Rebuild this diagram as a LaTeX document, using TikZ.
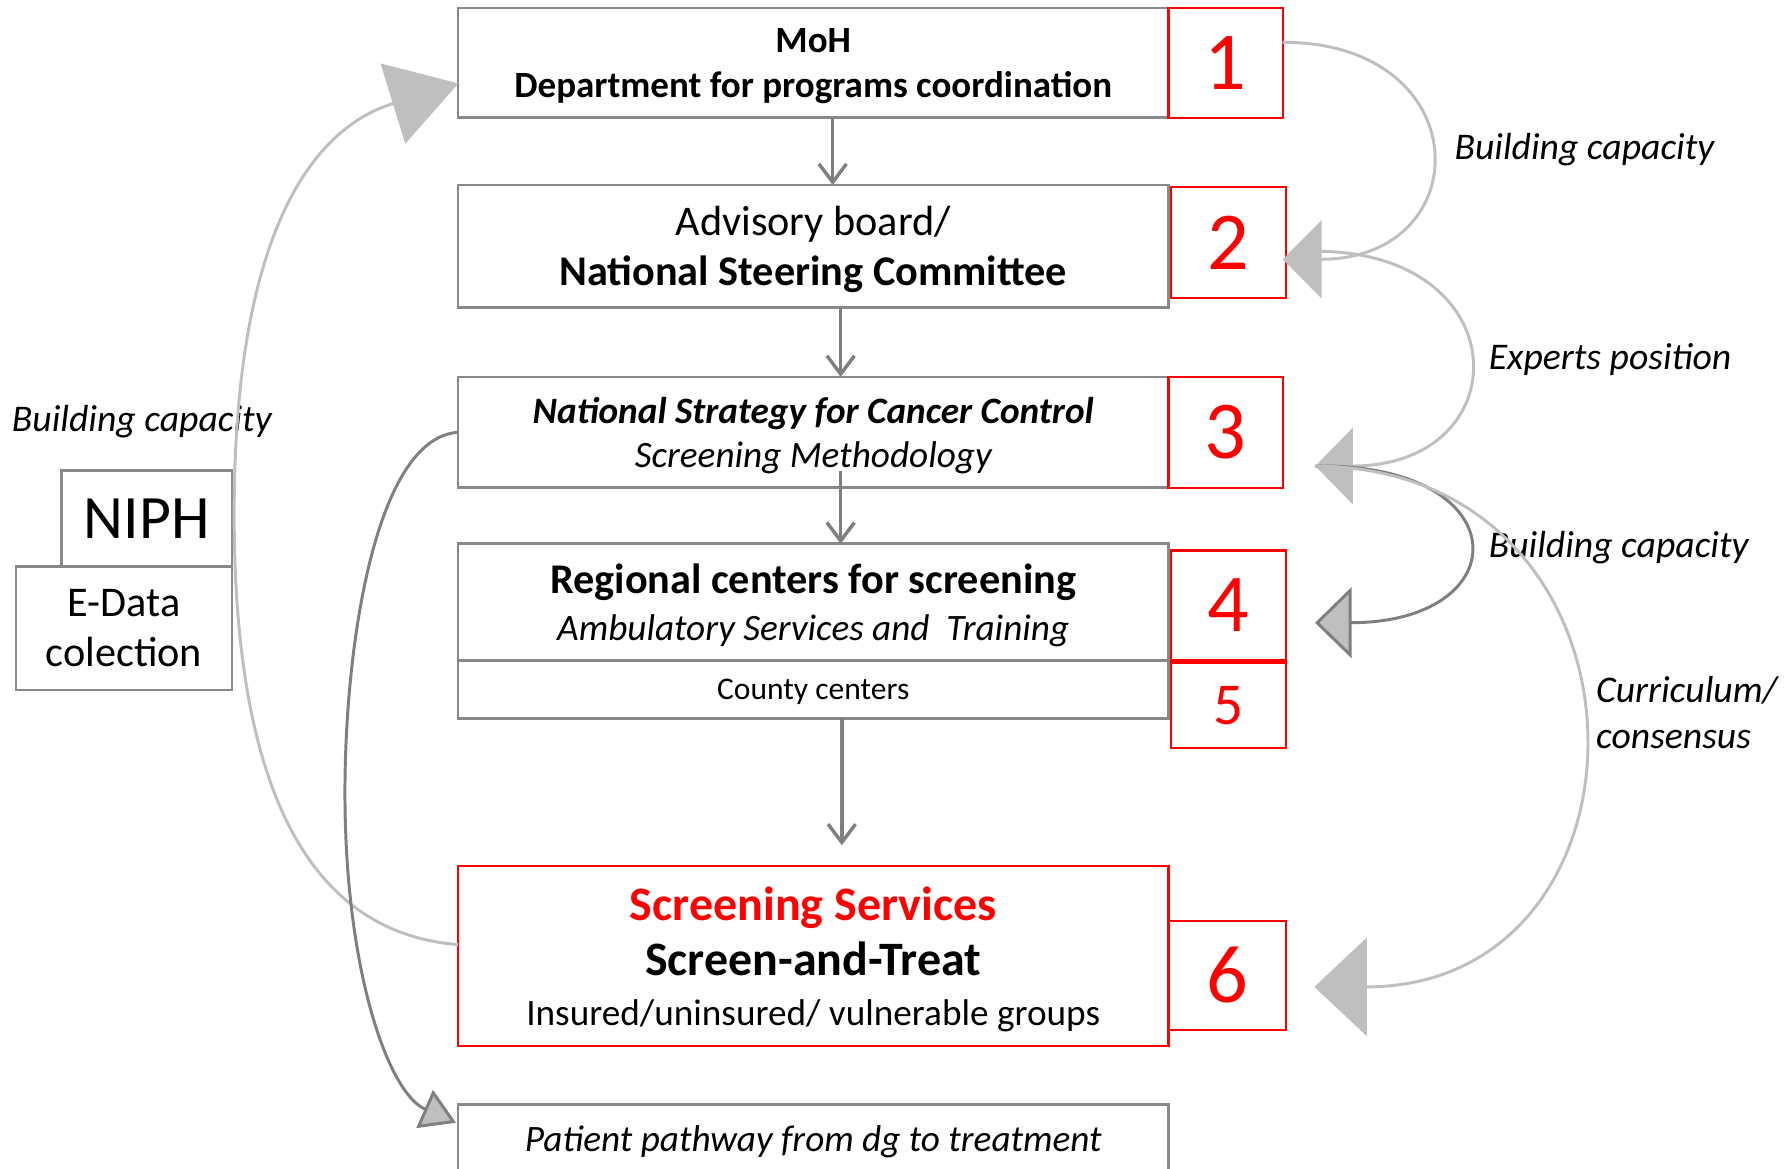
\documentclass[tikz,border=0pt]{standalone}
\usepackage{fontspec}
\setmainfont{Carlito}
\usetikzlibrary{arrows.meta}
\definecolor{boxgray}{HTML}{898989}
\definecolor{darkline}{HTML}{7F7F7F}
\definecolor{lightline}{HTML}{BFBFBF}
\definecolor{pptred}{HTML}{FF0000}
\begin{document}
\begin{tikzpicture}[x=0.5pt,y=-0.5pt,
  mainbox/.style={draw=boxgray, line width=1.2pt, fill=white, inner sep=0pt, outer sep=0pt, minimum width=311pt, align=center, text depth=0pt},
  numbox/.style={draw=pptred, line width=1pt, inner sep=0pt, outer sep=0pt, text=pptred, font=\fontsize{36}{36}\selectfont},
  sidebox/.style={draw=boxgray, line width=1.2pt, fill=white, inner sep=0pt, outer sep=0pt, align=center},
  flow/.style={draw=darkline, line width=1.5pt, -{Straight Barb[length=8pt,width=12pt]}},
  lightcurve/.style={draw=lightline, line width=1.3pt},
  darkcurve/.style={draw=darkline, line width=1.3pt},
  lbl/.style={font=\fontsize{16.5}{20}\selectfont\itshape, inner sep=0pt, anchor=west, align=left, text depth=0pt}
]
\useasboundingbox (0,0) rectangle (1568,1023);

% main boxes
\node[mainbox, minimum height=48pt, font=\fontsize{16.2}{19.5}\selectfont\bfseries] (b1) at (712,55) {MoH\\Department for programs coordination};
\node[mainbox, minimum height=53.5pt, font=\fontsize{18.5}{22}\selectfont] (b2) at (712,215.5) {Advisory board/\\\textbf{National Steering Committee}};
\node[mainbox, minimum height=48.5pt, font=\fontsize{16.3}{19.5}\selectfont\itshape] (b3) at (712,378.5) {\textbf{National Strategy for Cancer Control}\\Screening Methodology};
\node[mainbox, minimum height=51pt, font=\fontsize{18.5}{20.5}\selectfont] (b4) at (712,527) {\textbf{Regional centers for screening}\\{\fontsize{16.3}{20.5}\selectfont\itshape Ambulatory Services and\ \ Training}};
\node[mainbox, minimum height=25.5pt, font=\fontsize{13.8}{16}\selectfont] (b5) at (712,603.5) {County centers};
\node[mainbox, draw=pptred, line width=1pt, minimum height=79pt, font=\fontsize{21}{24}\selectfont\bfseries] (b6) at (712,837) {\textcolor{pptred}{Screening Services}\\Screen-and-Treat\\[-2pt]{\fontsize{16.3}{24}\selectfont\mdseries Insured/uninsured/ vulnerable groups}};
\node[mainbox, minimum height=30pt, font=\fontsize{16.3}{19.5}\selectfont\itshape] (b7) at (712,997) {Patient pathway from dg to treatment};

% number boxes
\node[numbox, minimum width=50pt, minimum height=48pt] (n1) at (1073,55) {1};
\node[numbox, minimum width=50.5pt, minimum height=48.5pt] (n2) at (1075.5,212.5) {2};
\node[numbox, minimum width=50pt, minimum height=48.5pt] (n3) at (1073,378.5) {3};
\node[numbox, minimum width=50.5pt, minimum height=48pt] (n4) at (1075.5,530) {4};
\node[numbox, minimum width=50.5pt, minimum height=37.5pt, font=\fontsize{26}{26}\selectfont] (n5) at (1075.5,617.5) {5};
\node[numbox, minimum width=51.5pt, minimum height=48pt] (n6) at (1074.5,854) {6};

% NIPH
\node[sidebox, minimum width=74.5pt, minimum height=42pt, font=\fontsize{27}{32}\selectfont] (niph) at (128.5,454) {NIPH};
\node[sidebox, minimum width=94.5pt, minimum height=54pt, font=\fontsize{18.5}{22}\selectfont] (edata) at (108.5,550) {E-Data\\colection};

% labels
\node[lbl] (l1) at (1273,128) {Building capacity};
\node[lbl] (l2) at (1303,312) {Experts position};
\node[lbl] (l3) at (1303,477) {Building capacity};
\node[lbl] (l4) at (1397,624) {Curriculum/\\consensus};
\node[lbl] (l0) at (10,366) {Building capacity};

% tip coordinates
\coordinate (t1) at (401.3,73);
\coordinate (t2) at (1123,227);
\coordinate (s2) at (1155,220);
\coordinate (t3) at (1151.5,408);
\coordinate (t4) at (1151.3,545.2);
\coordinate (t6) at (1150.7,864);
\coordinate (t7) at (399.2,982.9);

% flow arrows
\draw[flow] ([xshift=8.5pt]b1.south) -- ([xshift=8.5pt]b2.north);
\draw[flow] ([xshift=12pt]b2.south) -- ([xshift=12pt]b3.north);
\draw[flow] ([xshift=12pt,yshift=7.5pt]b3.south) -- ([xshift=12pt]b4.north);
\draw[flow] ([xshift=12.5pt]b5.south) -- ([xshift=12.5pt,yshift=9pt]b6.north);

% right curves
\draw[lightcurve, -{Triangle[length=17pt,width=34pt]}] ([yshift=9pt]n1.east) .. controls (1295,37) and (1295,227) .. (t2);
\draw[lightcurve, -{Triangle[length=16.5pt,width=33.5pt]}] (s2) .. controls (1330,222) and (1330,408) .. (t3);
\draw[darkcurve, -{Triangle[length=16pt,width=31pt,fill=lightline]}] (t3) .. controls (1330,405) and (1330,545) .. (t4);
\draw[lightcurve, -{Triangle[length=23pt,width=43pt]}] (t3) .. controls (1462,410) and (1462,864) .. (t6);

% left curves
\draw[lightcurve, -{Triangle[length=30pt,width=36.5pt]}] ([yshift=5pt]b6.west) .. controls (250,815) and (205,650) .. (205,450) .. controls (205,220) and (265,115) .. (t1);
\draw[darkcurve, -{Triangle[length=15pt,width=18pt,fill=lightline]}] (b3.west) .. controls (330,383) and (302,560) .. (302,694) .. controls (302,850) and (340,957) .. (t7);
\end{tikzpicture}
\end{document}
